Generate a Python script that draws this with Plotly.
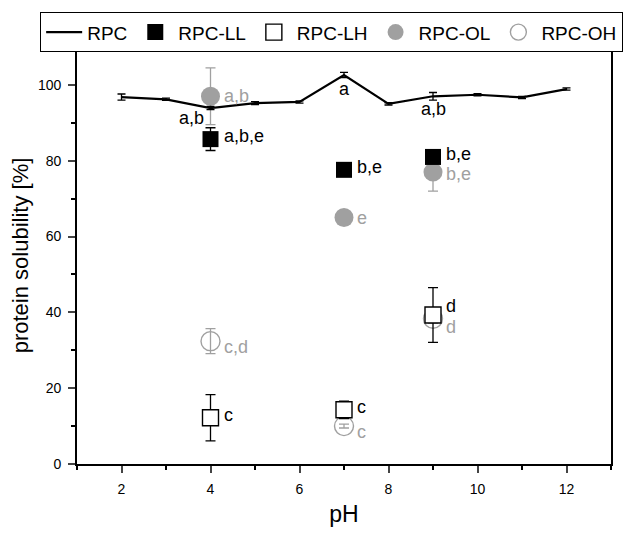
import plotly.graph_objects as go

# ---- data ----
ph_rpc = [2, 3, 4, 5, 6, 7, 8, 9, 10, 11, 12]
rpc = [96.8, 96.2, 93.9, 95.2, 95.5, 102.6, 95.0, 97.0, 97.4, 96.7, 98.9]
rpc_err = [0.8, 0.3, 0.4, 0.4, 0.3, 0.7, 0.3, 1.0, 0.3, 0.3, 0.3]

ph_s = [4, 7, 9]
ll = [85.7, 77.6, 81.0]
ll_err = [3.0, 0.8, 1.5]
lh = [12.2, 14.3, 39.3]
lh_err = [6.1, 2.3, 7.2]
ol = [97.0, 65.0, 77.0]
ol_err = [7.5, 0.5, 5.0]
oh = [32.4, 10.0, 38.3]
oh_err = [3.3, 0.5, 1.1]

lbl_rpc = {4: "a,b", 7: "a", 9: "a,b"}
lbl_ll = ["a,b,e", "b,e", "b,e"]
lbl_lh = ["c", "c", "d"]
lbl_ol = ["a,b", "e", "b,e"]
lbl_oh = ["c,d", "c", "d"]

GRAY = "#a0a0a0"
FONT = "Liberation Sans, Arial, sans-serif"

fig = go.Figure()

fig.add_trace(go.Scatter(
    x=ph_s, y=ol, mode="markers", name="RPC-OL", legendrank=4,
    marker=dict(symbol="circle", size=19, color=GRAY, line=dict(width=0)),
    error_y=dict(type="data", array=ol_err, color=GRAY, thickness=1.3, width=5)))
fig.add_trace(go.Scatter(
    x=ph_s, y=oh, mode="markers", name="RPC-OH", legendrank=5,
    marker=dict(symbol="circle-open", size=19, color=GRAY, line=dict(width=1.4, color=GRAY)),
    error_y=dict(type="data", array=oh_err, color=GRAY, thickness=1.3, width=5)))
fig.add_trace(go.Scatter(
    x=ph_s, y=ll, mode="markers", name="RPC-LL", legendrank=2,
    marker=dict(symbol="square", size=16, color="black", line=dict(width=0)),
    error_y=dict(type="data", array=ll_err, color="black", thickness=1.3, width=5)))
fig.add_trace(go.Scatter(
    x=ph_s, y=lh, mode="markers", name="RPC-LH", legendrank=3,
    marker=dict(symbol="square", size=16, color="white", line=dict(width=1.4, color="black")),
    error_y=dict(type="data", array=lh_err, color="black", thickness=1.3, width=5)))
fig.add_trace(go.Scatter(
    x=ph_rpc, y=rpc, mode="lines", name="RPC", legendrank=1,
    line=dict(color="black", width=2.2),
    error_y=dict(type="data", array=rpc_err, color="black", thickness=1.3, width=4)))

ann = []
def add(x, y, t, color, xs, ys, xa="left"):
    ann.append(dict(x=x, y=y, text=t, showarrow=False, xref="x", yref="y",
                    xanchor=xa, yanchor="middle", xshift=xs, yshift=ys,
                    font=dict(family=FONT, size=18, color=color)))

lh_dy = [3, 3, 9]
ol_dy = [0, 0, -2]
oh_dy = [-6, -6, -8]
for i, p in enumerate(ph_s):
    add(p, ll[i], lbl_ll[i], "black", 11, 3)
    add(p, lh[i], lbl_lh[i], "black", 11, lh_dy[i])
    add(p, ol[i], lbl_ol[i], GRAY, 11, ol_dy[i])
    add(p, oh[i], lbl_oh[i], GRAY, 11, oh_dy[i])

idx = {p: i for i, p in enumerate(ph_rpc)}
add(4, rpc[idx[4]], lbl_rpc[4], "black", -5, -10, "right")
add(7, rpc[idx[7]], lbl_rpc[7], "black", 0, -14, "center")
add(9, rpc[idx[9]], lbl_rpc[9], "black", 0, -13, "center")

fig.update_layout(
    width=633, height=535,
    margin=dict(l=77, r=22, t=44, b=59),
    paper_bgcolor="white", plot_bgcolor="white",
    font=dict(family=FONT, color="black"),
    annotations=ann,
    showlegend=True,
    legend=dict(orientation="h", x=-0.069, xanchor="left", y=1.0833, yanchor="top",
                yref="paper", bordercolor="black", borderwidth=1,
                font=dict(family=FONT, size=19, color="black"),
                itemwidth=36, tracegroupgap=0, bgcolor="white"),
    xaxis=dict(range=[1, 13], tickvals=[2, 4, 6, 8, 10, 12], ticks="outside", ticklen=7,
               tickwidth=1.5, showline=True, linewidth=1.8, linecolor="black", mirror=True,
               showgrid=False, zeroline=False, tickfont=dict(size=14), ticklabelstandoff=4,
               minor=dict(dtick=1, tick0=1, ticks="outside", ticklen=4, tickwidth=1.5,
                          tickcolor="black", showgrid=False),
               title=dict(text="pH", font=dict(size=23), standoff=10)),
    yaxis=dict(range=[0, 110], tickvals=[0, 20, 40, 60, 80, 100], ticks="outside", ticklen=7,
               tickwidth=1.5, showline=True, linewidth=1.8, linecolor="black", mirror=True,
               showgrid=False, zeroline=False, tickfont=dict(size=14), ticklabelstandoff=4,
               minor=dict(dtick=10, tick0=0, ticks="outside", ticklen=4, tickwidth=1.5,
                          tickcolor="black", showgrid=False),
               title=dict(text="protein solubility [%]", font=dict(size=22), standoff=3)),
)

fig.write_html("out.html")
